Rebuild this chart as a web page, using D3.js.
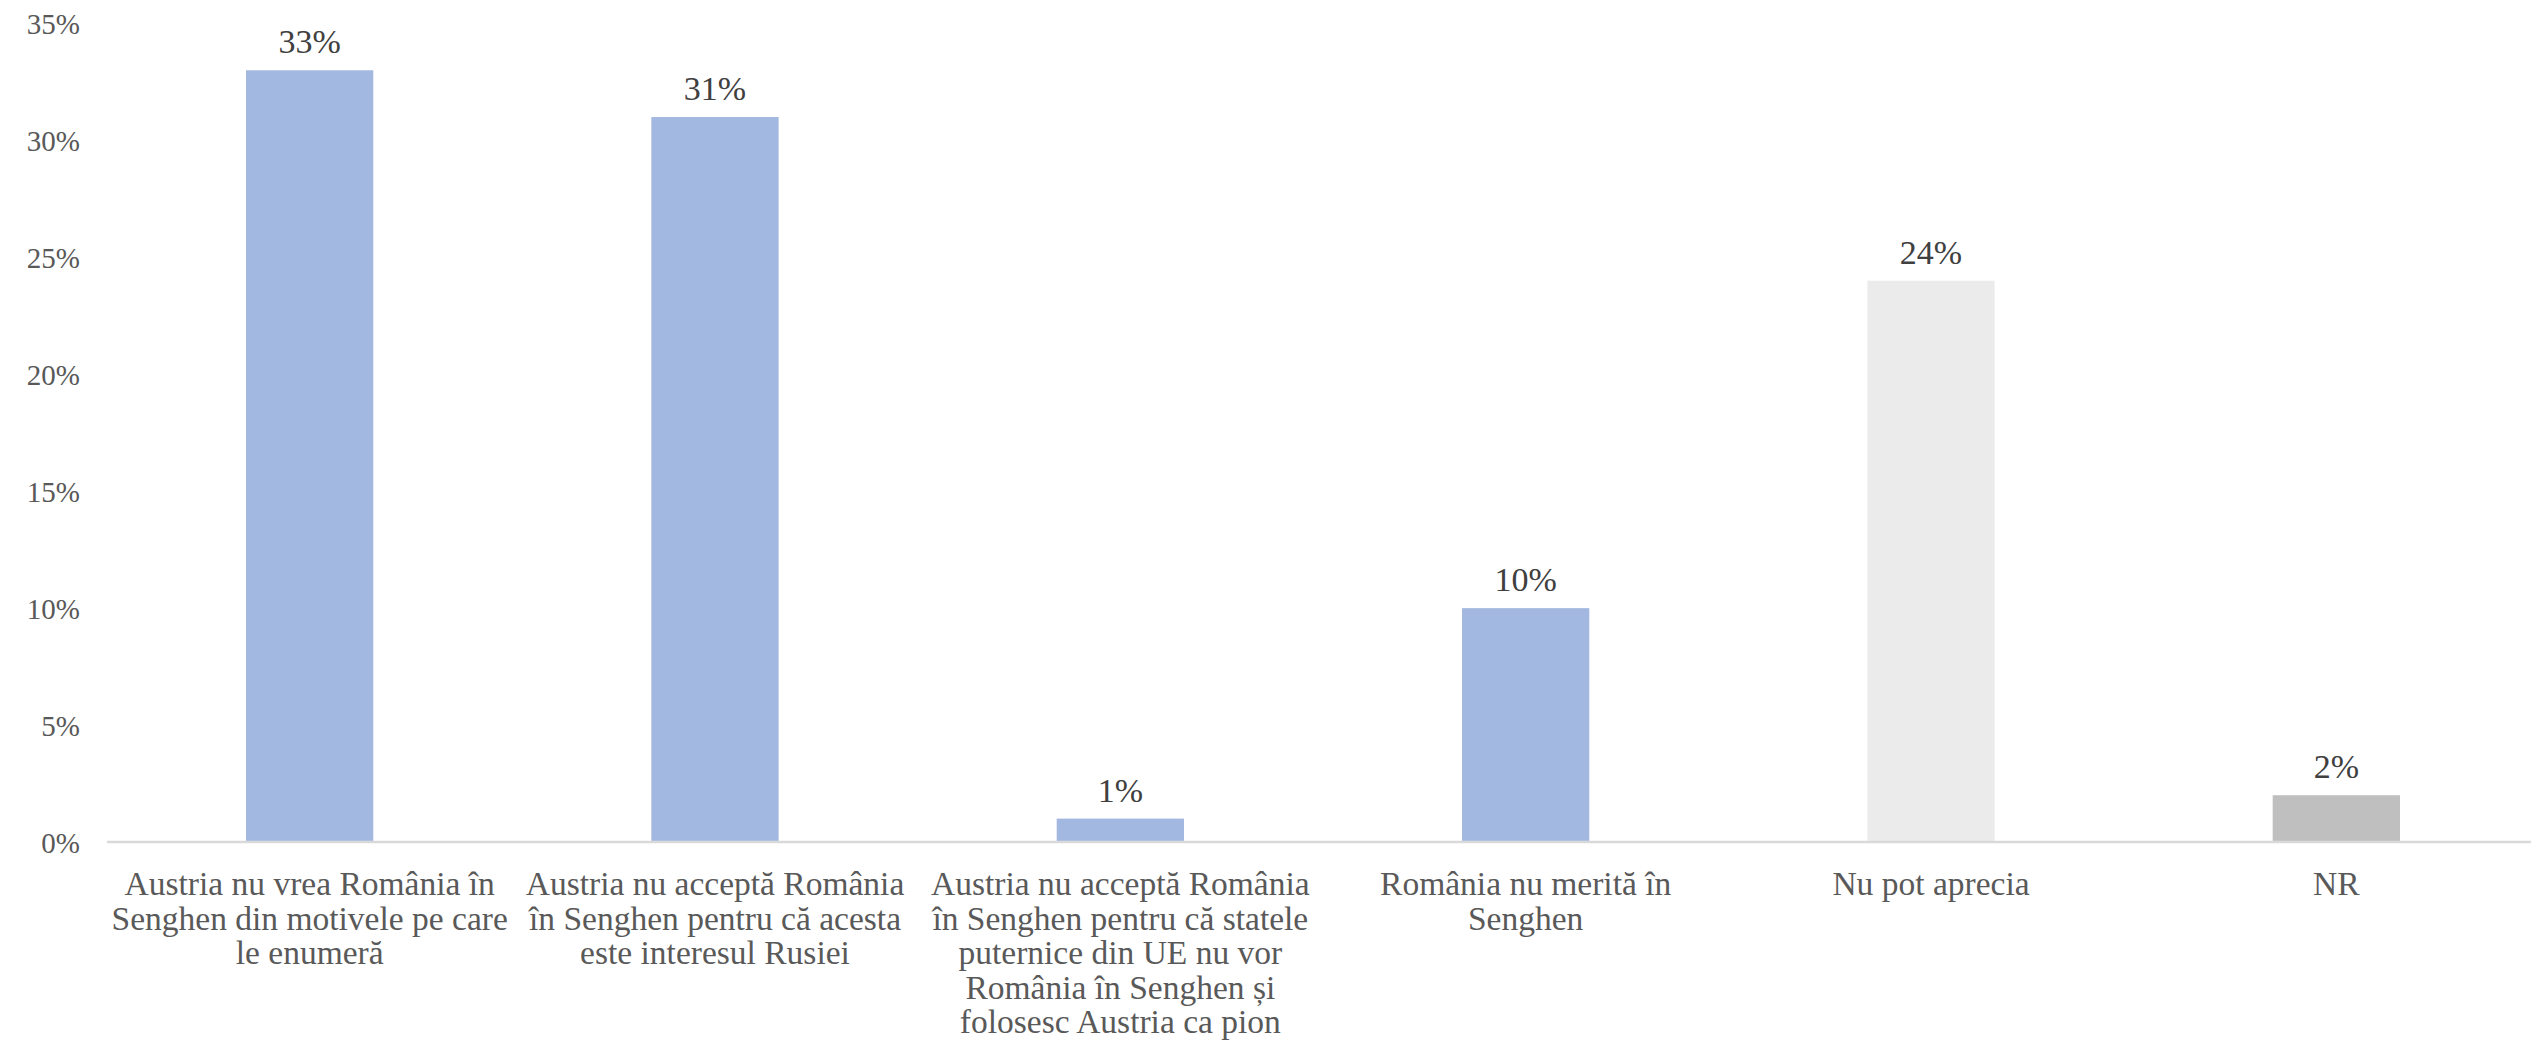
<!DOCTYPE html>
<meta charset="utf-8">
<style>
  body { margin: 0; background: #fff; }
  text { font-family: "Liberation Serif", "DejaVu Serif", serif; }
</style>
<script src="https://d3js.org/d3.v7.min.js"></script>
<body>
<script>

var width = 2531,
    height = 1051;

// data
var categories = [
  "Austria nu vrea România în\nSenghen din motivele pe care\nle enumeră",
  "Austria nu acceptă România\nîn Senghen pentru că acesta\neste interesul Rusiei",
  "Austria nu acceptă România\nîn Senghen pentru că statele\nputernice din UE nu vor\nRomânia în Senghen și\nfolosesc Austria ca pion",
  "România nu merită în\nSenghen",
  "Nu pot aprecia",
  "NR"
];
var values = [33, 31, 1, 10, 24, 2];
var barColors = ["#A3B8E0", "#A3B8E0", "#A3B8E0", "#A3B8E0", "#EBEBEB", "#BFBFBF"];
var yTicks = [0, 5, 10, 15, 20, 25, 30, 35];

var x = d3.scaleBand()
    .domain(categories)
    .range([107, 2539])
    .paddingInner(0.686)
    .paddingOuter(0.343);

var y = d3.scaleLinear()
    .domain([0, 35])
    .range([842, 23.5]);

var svg = d3.select("body").append("svg")
    .attr("width", width)
    .attr("height", height);

// y axis labels only, no gridlines
var yAxis = d3.axisLeft(y)
    .tickValues(yTicks)
    .tickFormat(function(d){ return d + "%"; })
    .tickSize(0)
    .tickPadding(0);

var gy = svg.append("g")
    .attr("transform", "translate(80,0)")
    .call(yAxis);
gy.select(".domain").remove();
gy.selectAll("text")
    .attr("font-size", 29)
    .attr("fill", "#595959")
    .attr("dy", "0.36em")
    .style("font-family", "'Liberation Serif', serif");

// bars
svg.selectAll(".bar")
    .data(values)
  .enter().append("rect")
    .attr("class", "bar")
    .attr("x", function(d, i){ return x(categories[i]); })
    .attr("width", x.bandwidth())
    .attr("y", function(d){ return y(d); })
    .attr("height", function(d){ return y(0) - y(d); })
    .attr("fill", function(d, i){ return barColors[i]; });

// baseline
svg.append("line")
    .attr("x1", 107).attr("x2", width)
    .attr("y1", y(0)).attr("y2", y(0))
    .attr("stroke", "#D9D9D9")
    .attr("stroke-width", 2.5);

// data labels
svg.selectAll(".val")
    .data(values)
  .enter().append("text")
    .attr("class", "val")
    .attr("x", function(d, i){ return x(categories[i]) + x.bandwidth()/2; })
    .attr("y", function(d){ return y(d) - 17; })
    .attr("text-anchor", "middle")
    .attr("font-size", 34)
    .attr("fill", "#404040")
    .text(function(d){ return d + "%"; });

// category labels via bottom axis
var xAxis = d3.axisBottom(x).tickSize(0).tickPadding(0).tickFormat("");
var gx = svg.append("g")
    .attr("transform", "translate(0," + y(0) + ")")
    .call(xAxis);
gx.select(".domain").remove();
gx.selectAll(".tick").each(function(d){
  var lines = d.split("\n");
  var t = d3.select(this).append("text")
      .attr("text-anchor", "middle")
      .attr("font-size", 33.5)
      .attr("fill", "#595959")
      .style("font-family", "'Liberation Serif', serif");
  lines.forEach(function(l, k){
    t.append("tspan").attr("x", 0).attr("y", 53 + k*34.5).text(l);
  });
});

</script>
